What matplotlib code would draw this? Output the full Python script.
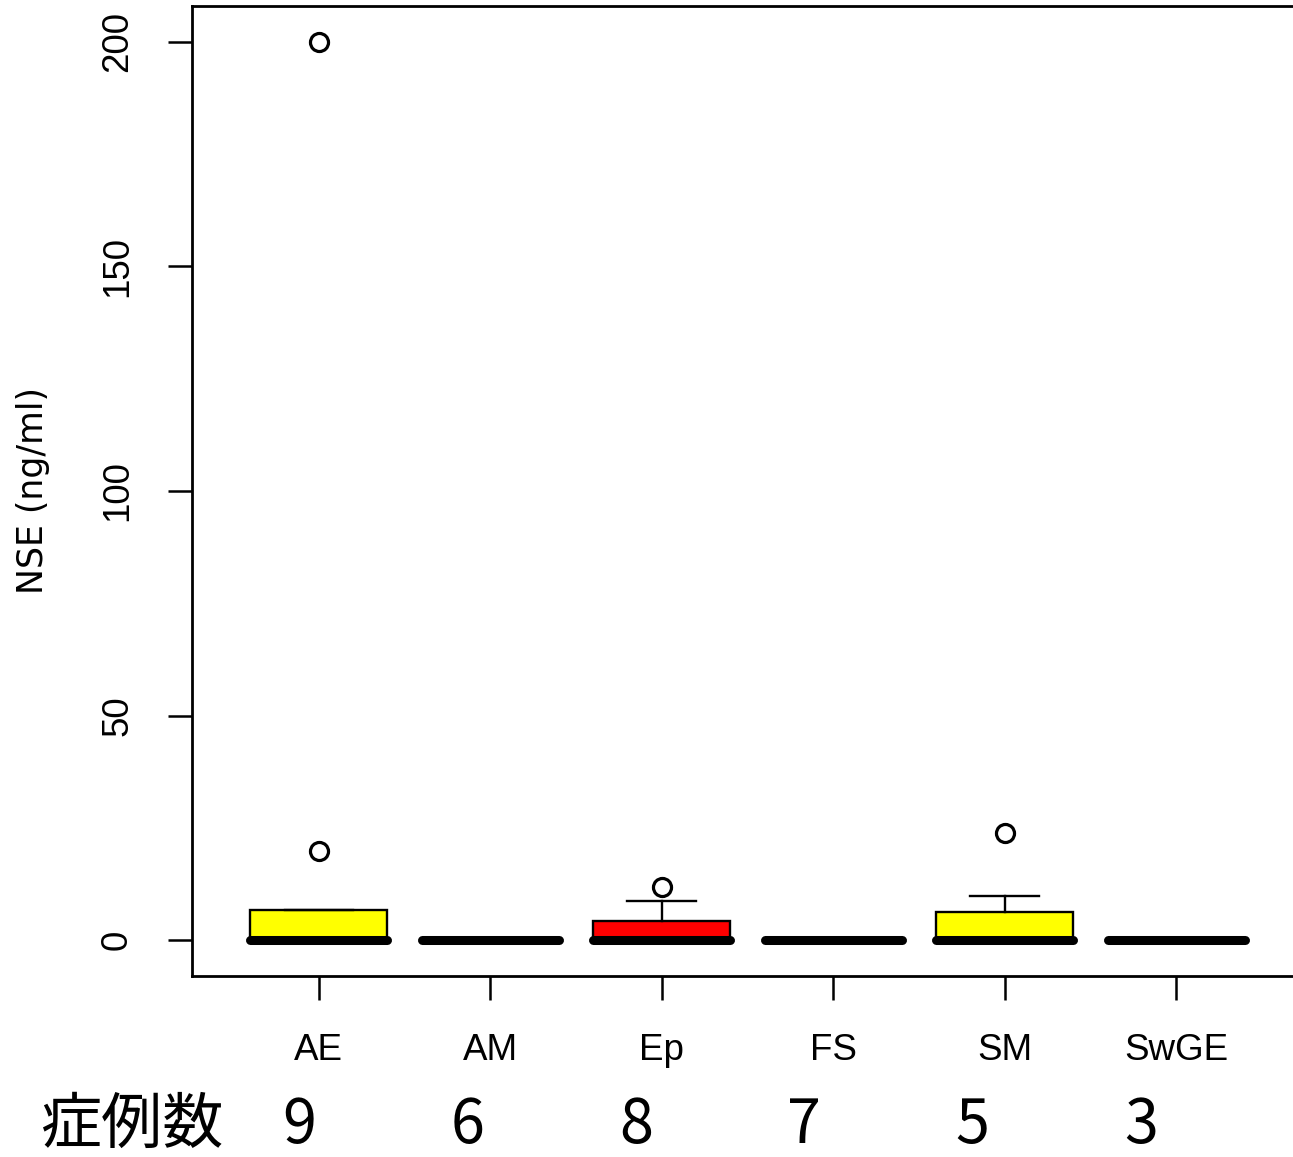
import matplotlib
matplotlib.use('Agg')
import matplotlib.pyplot as plt

plt.rcParams['font.family'] = ['Liberation Sans', 'DejaVu Sans']

# groups and per-group box statistics (ng/ml)
groups = ['AE', 'AM', 'Ep', 'FS', 'SM', 'SwGE']
counts = [9, 6, 8, 7, 5, 3]
medians = [0, 0, 0, 0, 0, 0]
q1 = [0, 0, 0, 0, 0, 0]
q3 = [6.8, 0, 4.3, 0, 6.3, 0]
whisker_lo = [0, 0, 0, 0, 0, 0]
whisker_hi = [6.8, 0, 8.8, 0, 9.9, 0]
outliers = [[19.8, 200], [], [11.9], [], [23.8], []]
fill_colors = ['yellow', 'white', 'red', 'white', 'yellow', 'white']

stats = []
for i, g in enumerate(groups):
    stats.append({'label': g, 'med': medians[i], 'q1': q1[i], 'q3': q3[i],
                  'whislo': whisker_lo[i], 'whishi': whisker_hi[i],
                  'fliers': outliers[i]})

fig = plt.figure(figsize=(12.93, 11.57), dpi=100)
ax = fig.add_axes([192 / 1293, 1 - 976 / 1157, 1111 / 1293, 970 / 1157])

positions = list(range(1, len(groups) + 1))
bp = ax.bxp(stats, positions=positions, widths=0.8, capwidths=0.4,
            patch_artist=True,
            boxprops=dict(linewidth=1.7, edgecolor='black'),
            medianprops=dict(color='black', linewidth=6.5, solid_capstyle='round', zorder=5),
            whiskerprops=dict(color='black', linewidth=1.7),
            capprops=dict(color='black', linewidth=1.7),
            flierprops=dict(marker='o', markerfacecolor='none', markeredgecolor='black',
                            markersize=13, markeredgewidth=2.3))
for patch, c in zip(bp['boxes'], fill_colors):
    patch.set_facecolor(c)

ax.set_xlim(0.26, 6.74)
ax.set_ylim(-8, 208)
ax.set_yticks([0, 50, 100, 150, 200])
ax.set_xticks(positions)
ax.set_xticklabels(groups, fontsize=26.5)
for lab in ax.get_yticklabels():
    lab.set_rotation(90)
    lab.set_va('center')
    lab.set_fontsize(26.5)

ax.tick_params(axis='y', length=17, width=1.8, pad=24)
ax.tick_params(axis='x', length=17, width=1.8, pad=24)
for s in ax.spines.values():
    s.set_linewidth(2.0)

ax.set_ylabel('NSE (ng/ml)', fontsize=25, family=['DejaVu Sans'], labelpad=36)

# case counts row below the axis
cjk = ['Noto Sans CJK JP', 'DejaVu Sans']
row_y = 1 - 1126 / 1157
fig.text(40 / 1293, row_y, '症例数', fontsize=44, family=cjk,
         ha='left', va='center')
for i, n in enumerate(counts):
    x_px = 299 + 168.4 * i
    fig.text(x_px / 1293, row_y, str(n), fontsize=44, family=cjk,
             ha='center', va='center')

fig.savefig('out.png', dpi=100)
